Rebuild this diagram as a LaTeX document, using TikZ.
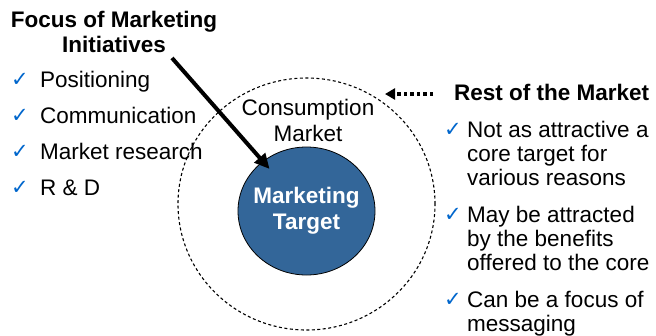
\documentclass[tikz,border=0pt]{standalone}
\usepackage{fontspec}
\setmainfont{Liberation Sans}
\newfontfamily\symfont{DejaVu Sans}
\usetikzlibrary{arrows.meta,shapes.geometric}
\definecolor{targetblue}{RGB}{51,102,153}
\definecolor{checkblue}{RGB}{0,102,204}

\begin{document}
\begin{tikzpicture}[x=1pt,y=-1pt,
  txt/.style={inner sep=0pt, font=\fontsize{22.5}{24}\selectfont},
  headtxt/.style={inner sep=0pt, font=\fontsize{22.5}{25}\selectfont\bfseries},
  item/.style={txt, anchor=base west, align=left},
  tick/.style={inner sep=0pt, anchor=base west, text=checkblue,
    font=\fontsize{21}{21}\selectfont\symfont},
  ring/.style={ellipse, draw, dashed, dash pattern=on 3pt off 2.5pt, line width=1.1pt},
  core/.style={ellipse, draw, line width=0.8pt, fill=targetblue, text=white,
    align=center, font=\fontsize{22.5}{26}\selectfont\bfseries},
]
\useasboundingbox (0,0) rectangle (656,335);

% consumption market and its core target
\node[ring, minimum width=257pt, minimum height=252pt] (market) at (306.5,204) {};
\node[txt, align=center, font=\fontsize{22.5}{26}\selectfont] (consumption) at (308,120) {Consumption\\Market};
\node[core, minimum width=137pt, minimum height=128pt, inner sep=-10pt] (target) at (306.5,211) {Marketing\\Target};

% focus of marketing initiatives (base anchor sits on the last line)
\node[headtxt, align=center, anchor=base] (focus) at (114,52) {Focus of Marketing\\Initiatives};
\node[tick] (t1) at (11,86) {✓};
\node[item] (pos) at (40,87) {Positioning};
\node[tick] (t2) at (11,122) {✓};
\node[item] (com) at (40,123) {Communication};
\node[tick] (t3) at (11,158) {✓};
\node[item] (res) at (40,159) {Market research};
\node[tick] (t4) at (11,194) {✓};
\node[item] (rd) at (40,195) {R \& D};

\coordinate (focusstart) at (172,58);
\draw[line width=4pt, -{Triangle[length=15pt,width=14pt]}, shorten >=56pt] (focusstart) -- (target.center);

% rest of the market
\node[headtxt, anchor=base west] (rest) at (454,100) {Rest of the Market};
\node[tick] (t5) at (444,136) {✓};
\node[item] (r1) at (467,185) {Not as attractive a\\core target for\\various reasons};
\node[tick] (t6) at (444,221) {✓};
\node[item] (r2) at (467,270) {May be attracted\\by the benefits\\offered to the core};
\node[tick] (t7) at (444,306) {✓};
\node[item] (r3) at (467,331) {Can be a focus of\\messaging};

\coordinate (restfrom) at (433,94);
\coordinate (restto) at (385,94);
\draw[line width=3.5pt, dash pattern=on 3.5pt off 3pt, -{Triangle[length=10pt,width=11pt]}] (restfrom) -- (restto);
\end{tikzpicture}
\end{document}
